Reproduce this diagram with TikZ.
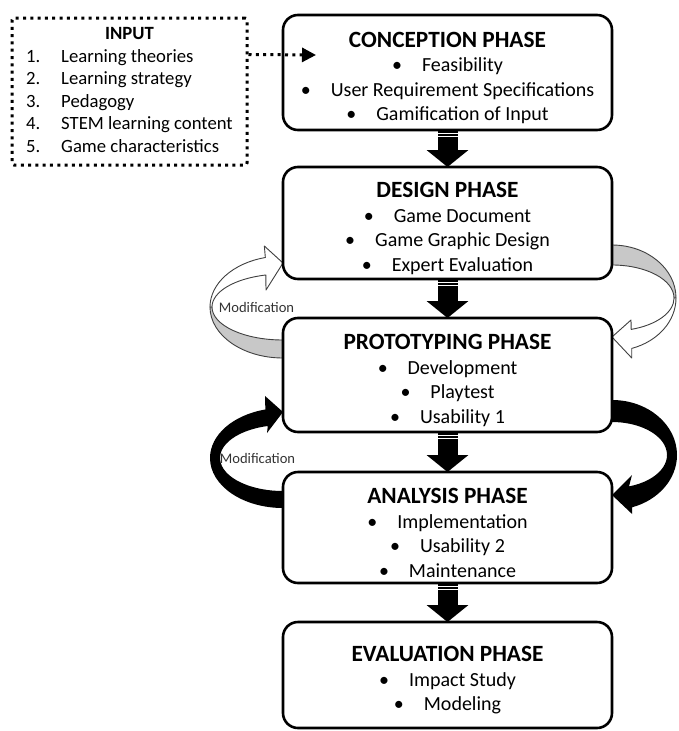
\documentclass[tikz,border=0pt]{standalone}
\usepackage{fontspec}
\setmainfont{Carlito}
\usepackage{tikz}
\usetikzlibrary{positioning,calc,arrows.meta,backgrounds}
\definecolor{bandgray}{RGB}{200,200,200}
\newcommand{\ttl}{\fontsize{23.3}{28}\selectfont\bfseries\rule{0pt}{26pt}}
\newcommand{\itm}[1]{\textbullet\hspace{20pt}#1}

\begin{document}
\begin{tikzpicture}[x=1pt,y=1pt,
  phase/.style={draw,line width=2.6pt,rounded corners=15pt,fill=white,minimum width=329pt,outer sep=0pt,inner sep=0pt,align=center,font=\fontsize{20}{24.5}\selectfont},
  inbox/.style={draw,line width=3pt,dash pattern=on 3pt off 4.3pt,rounded corners=2pt,minimum width=235pt,minimum height=147pt,inner sep=0pt,font=\fontsize{18.7}{22.5}\selectfont},
  dotline/.style={line width=3pt,dash pattern=on 3pt off 4.3pt},
  flow/.style={line width=20pt,-{Triangle[length=17pt,width=41pt]}},
  stripe/.style={white,line width=1pt},
  band/.style={draw=black!75,line width=0.9pt,line join=round},
  modlabel/.style={font=\fontsize{14.6}{17}\selectfont,text=black!80}]
\useasboundingbox (0,0) rectangle (678,-731);

\node[inbox] (input) at (129.5,-91.5) {\begin{tabular}{@{}p{35pt}@{}l@{}}
\multicolumn{2}{c}{\bfseries INPUT}\\
1. & Learning theories\\
2. & Learning strategy\\
3. & Pedagogy\\
4. & STEM learning content\\
5. & Game characteristics
\end{tabular}};

\node[phase,minimum height=115pt] (concept) at (447.5,-72.5) {{\ttl CONCEPTION PHASE}\\ \itm{Feasibility}\\ \itm{User Requirement Specifications}\\ \itm{Gamification of Input}};
\node[phase,minimum height=112pt,below=37pt of concept] (design) {{\ttl DESIGN PHASE}\\ \itm{Game Document}\\ \itm{Game Graphic Design}\\ \itm{Expert Evaluation}};
\node[phase,minimum height=114pt,below=39pt of design] (proto) {{\ttl PROTOTYPING PHASE}\\ \itm{Development}\\ \itm{Playtest}\\ \itm{Usability 1}};
\node[phase,minimum height=111pt,below=40pt of proto] (analysis) {{\ttl ANALYSIS PHASE}\\ \itm{Implementation}\\ \itm{Usability 2}\\ \itm{Maintenance}};
\node[phase,minimum height=106pt,below=39pt of analysis] (eval) {{\ttl EVALUATION PHASE}\\ \itm{Impact Study}\\ \itm{Modeling}};

\draw[dotline,-{Triangle[length=14pt,width=14pt]}] ($(input.north east)+(0,-38)$) -- ($(concept.north west)+(33,-40)$);

\draw[flow] (concept) -- (design);
\draw[flow] (design) -- (proto);
\draw[flow] (proto) -- (analysis);
\draw[flow] (analysis) -- (eval);
\draw[stripe] ($(concept.south)+(-10,-3.5)$) -- +(20,0) ($(concept.south)+(-10,-6.5)$) -- +(20,0);
\draw[stripe] ($(design.south)+(-10,-3.5)$) -- +(20,0) ($(design.south)+(-10,-6.5)$) -- +(20,0);
\draw[stripe] ($(proto.south)+(-10,-3.5)$) -- +(20,0) ($(proto.south)+(-10,-6.5)$) -- +(20,0);
\draw[stripe] ($(analysis.south)+(-10,-3.5)$) -- +(20,0) ($(analysis.south)+(-10,-6.5)$) -- +(20,0);

% modification loops, kept behind the boxes
\begin{scope}[on background layer]
\filldraw[band,fill=bandgray] ($(design.north east)+(0,-78)$) arc[start angle=90,end angle=0,x radius=64,y radius=53] coordinate (r1a) -- ++(-2,0) arc[start angle=0,end angle=90,x radius=62,y radius=33] -- cycle;
\filldraw[band,fill=white] (r1a) arc[start angle=0,end angle=-72,x radius=64,y radius=53] -- ++(0,-9.6) -- ($(proto.north east)+(0,-19)$) -- ++(19,17) -- ++(0.2,-9.4) arc[start angle=-72,end angle=0,x radius=62,y radius=33] -- cycle;

\filldraw[band,fill=bandgray] ($(proto.north west)+(0,-40)$) arc[start angle=270,end angle=180,x radius=73,y radius=51] coordinate (l1a) -- ++(2,0) arc[start angle=180,end angle=270,x radius=71,y radius=33] -- cycle;
\filldraw[band,fill=white] (l1a) arc[start angle=180,end angle=104,x radius=73,y radius=51] -- ++(-1,11.5) -- ($(design.south west)+(0,16)$) -- ++(-17,-27) -- ++(-0.2,15) arc[start angle=104,end angle=180,x radius=71,y radius=33] -- cycle;

\fill ($(proto.south east)+(0,32)$) arc[start angle=90,end angle=-72,x radius=65,y radius=55] -- ++(0,-6.7) -- ($(analysis.north east)+(0,-23)$) -- ++(20,20) -- ++(-3,-11.4) arc[start angle=-72,end angle=90,x radius=55,y radius=33] -- cycle;
\fill ($(analysis.north west)+(0,-36)$) arc[start angle=270,end angle=104,x radius=73,y radius=50] -- ++(-0.3,13.5) -- ($(proto.south west)+(0,20)$) -- ++(-16,-21) -- ++(0.8,7) arc[start angle=104,end angle=270,x radius=63,y radius=33] -- cycle;
\end{scope}

\node[modlabel] (mod1) at (256.5,-307) {Modification};
\node[modlabel] (mod2) at (257.5,-458) {Modification};
\end{tikzpicture}
\end{document}
